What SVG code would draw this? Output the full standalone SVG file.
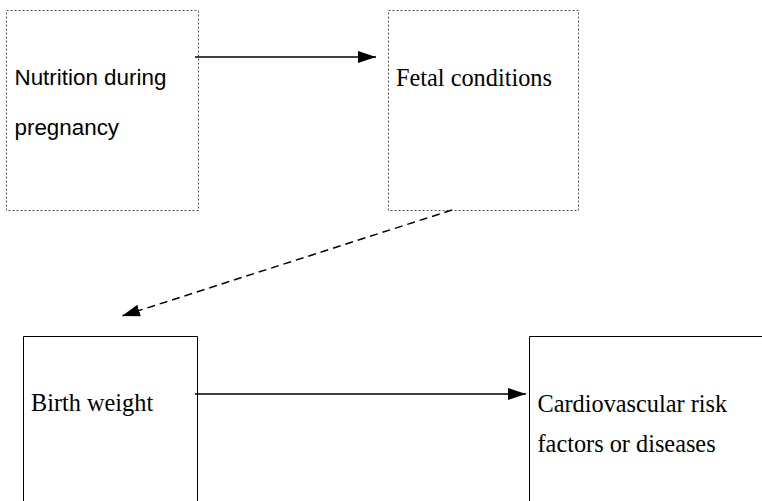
<svg xmlns="http://www.w3.org/2000/svg" width="762" height="501" viewBox="0 0 762 501">
<style>
.dot{fill:none;stroke:#555;stroke-width:1;stroke-dasharray:2 2}
.box{fill:none;stroke:#000;stroke-width:1}
.sans{font-family:"Liberation Sans",Arial,sans-serif;font-size:22.4px;fill:#000}
.serif{font-family:"Liberation Serif","Times New Roman",serif;font-size:24.3px;fill:#000}
.ln{stroke:#000;stroke-width:1.5;fill:none}
</style>
<defs>
<marker id="ah" markerWidth="18" markerHeight="12" refX="18" refY="6" orient="auto" markerUnits="userSpaceOnUse">
<path d="M0,0 L18,6 L0,12 Z" fill="#000"/>
</marker>
</defs>
<rect width="762" height="501" fill="#fff"/>
<g id="n1"><rect class="dot" x="6.5" y="10.5" width="192" height="200"/>
<text class="sans" x="14.5" y="85">Nutrition during</text>
<text class="sans" x="14.5" y="135">pregnancy</text></g>
<g id="n2"><rect class="dot" x="388.5" y="10.5" width="190" height="200"/>
<text class="serif" x="396" y="86">Fetal conditions</text></g>
<g id="n3"><path class="box" d="M23.5,501 V336.5 H197.5 V501"/>
<text class="serif" x="31" y="411">Birth weight</text></g>
<g id="n4"><path class="box" d="M529.5,501 V336.5 H762"/>
<text class="serif" x="537.5" y="412">Cardiovascular risk</text>
<text class="serif" x="537.5" y="452">factors or diseases</text></g>
<g id="edges">
<line class="ln" x1="195" y1="57" x2="376" y2="57" marker-end="url(#ah)"/>
<line class="ln" x1="452" y1="210" x2="122" y2="316" stroke-dasharray="8 5" marker-end="url(#ah)"/>
<line class="ln" x1="195" y1="394" x2="526" y2="394" marker-end="url(#ah)"/>
</g>
</svg>
